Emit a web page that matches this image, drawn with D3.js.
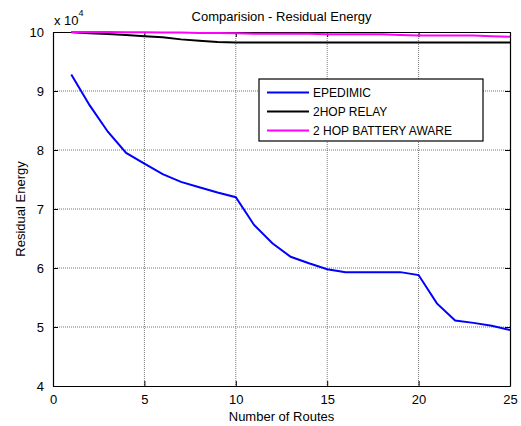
<!DOCTYPE html>
<html>
<head>
<meta charset="utf-8">
<script src="https://cdn.jsdelivr.net/npm/d3@7"></script>
<style>
  body { margin: 0; background: #fff; }
  text { font-family: Arial, "Liberation Sans", sans-serif; fill: #000; }
</style>
</head>
<body>
<div id="chart"></div>
<script>
// chart data
var routes = d3.range(1, 26);
var epidemic = [92800, 87600, 83100, 79500, 77700, 75900, 74600, 73700, 72800, 72000,
  67300, 64200, 61900, 60800, 59800, 59300, 59300, 59300, 59300, 58800,
  54000, 51100, 50700, 50200, 49500];
var twoHopRelay = [99950, 99800, 99650, 99500, 99300, 99100, 98750, 98500, 98300, 98200,
  98200, 98200, 98200, 98200, 98200, 98200, 98200, 98200, 98200, 98200,
  98200, 98200, 98200, 98200, 98200];
var twoHopBattery = [100000, 100000, 100000, 99950, 99950, 99900, 99900, 99850, 99850, 99800,
  99700, 99700, 99700, 99700, 99600, 99600, 99600, 99600, 99500, 99400,
  99400, 99400, 99400, 99300, 99200];
var seriesNames = ["EPEDIMIC", "2HOP RELAY", "2 HOP BATTERY AWARE"];
var seriesColors = ["#0000ff", "#000000", "#ff00ff"];
var xTicks = [0, 5, 10, 15, 20, 25];
var yTicks = [40000, 50000, 60000, 70000, 80000, 90000, 100000];

var svgWidth = 521;
var svgHeight = 426;

var margin = { top: 32, right: 11, bottom: 40, left: 53 };
var width = svgWidth - margin.left - margin.right;
var height = svgHeight - margin.top - margin.bottom;

var svg = d3.select("#chart")
  .append("svg")
  .attr("width", svgWidth)
  .attr("height", svgHeight);

var chartGroup = svg.append("g")
  .attr("transform", `translate(${margin.left}, ${margin.top})`);

var xScale = d3.scaleLinear().domain([0, 25]).range([0, width]);
var yScale = d3.scaleLinear().domain([40000, 100000]).range([height, 0]);

// dotted grid
chartGroup.append("g")
  .selectAll("line.vgrid")
  .data(xTicks.slice(1, -1))
  .enter()
  .append("line")
  .attr("x1", d => xScale(d)).attr("x2", d => xScale(d))
  .attr("y1", 0).attr("y2", height)
  .attr("stroke", "#777")
  .attr("stroke-dasharray", "1,1");

chartGroup.append("g")
  .selectAll("line.hgrid")
  .data(yTicks.slice(1, -1))
  .enter()
  .append("line")
  .attr("x1", 0).attr("x2", width)
  .attr("y1", d => yScale(d)).attr("y2", d => yScale(d))
  .attr("stroke", "#777")
  .attr("stroke-dasharray", "1,1");

// axes with inward ticks, MATLAB style
var bottomAxis = d3.axisBottom(xScale).tickValues(xTicks).tickSizeInner(-5).tickSizeOuter(0).tickPadding(9);
var topAxis = d3.axisTop(xScale).tickValues(xTicks).tickSizeInner(-5).tickSizeOuter(0).tickFormat("");
var leftAxis = d3.axisLeft(yScale).tickValues(yTicks).tickSizeInner(-5).tickSizeOuter(0).tickPadding(9)
  .tickFormat(d => d / 10000);
var rightAxis = d3.axisRight(yScale).tickValues(yTicks).tickSizeInner(-5).tickSizeOuter(0).tickFormat("");

function styleAxis(g) {
  g.selectAll("path").attr("stroke", "#000").attr("stroke-width", 1.2);
  g.selectAll("line").attr("stroke", "#000");
  g.selectAll("text").style("font-size", "13px").attr("fill", "#000")
    .style("font-family", "Arial, 'Liberation Sans', sans-serif");
}

chartGroup.append("g").attr("transform", `translate(0, ${height})`).call(bottomAxis).call(styleAxis);
chartGroup.append("g").call(topAxis).call(styleAxis);
chartGroup.append("g").call(leftAxis).call(styleAxis);
chartGroup.append("g").attr("transform", `translate(${width}, 0)`).call(rightAxis).call(styleAxis);

// lines
var lineGen = d3.line()
  .x((d, i) => xScale(routes[i]))
  .y(d => yScale(d));

[epidemic, twoHopRelay, twoHopBattery].forEach(function(values, i) {
  chartGroup.append("path")
    .datum(values)
    .attr("fill", "none")
    .attr("stroke", seriesColors[i])
    .attr("stroke-width", 2)
    .attr("d", lineGen);
});

// legend
var legend = chartGroup.append("g")
  .attr("transform", `translate(${259 - margin.left}, ${79 - margin.top})`);

legend.append("rect")
  .attr("width", 224)
  .attr("height", 62)
  .attr("fill", "#fff")
  .attr("stroke", "#000")
  .attr("stroke-width", 1.2);

seriesNames.forEach(function(name, i) {
  var yPos = 13.5 + i * 19;
  legend.append("line")
    .attr("x1", 8).attr("x2", 50)
    .attr("y1", yPos).attr("y2", yPos)
    .attr("stroke", seriesColors[i])
    .attr("stroke-width", 2);
  legend.append("text")
    .attr("x", 54)
    .attr("y", yPos)
    .attr("dy", "0.35em")
    .style("font-size", "12px")
    .text(name);
});

// title and labels
svg.append("text")
  .attr("x", margin.left + width / 2)
  .attr("y", 21)
  .attr("text-anchor", "middle")
  .style("font-size", "13px")
  .text("Comparision - Residual Energy");

svg.append("text")
  .attr("x", margin.left + width / 2)
  .attr("y", 421)
  .attr("text-anchor", "middle")
  .style("font-size", "13px")
  .text("Number of Routes");

svg.append("text")
  .attr("transform", `translate(25, ${margin.top + height / 2}) rotate(-90)`)
  .attr("text-anchor", "middle")
  .style("font-size", "13px")
  .text("Residual Energy");

// exponent label
var expLabel = svg.append("text")
  .attr("x", 54)
  .attr("y", 25)
  .style("font-size", "13px");
expLabel.append("tspan").text("x 10");
expLabel.append("tspan").attr("dy", -9).style("font-size", "9px").text("4");
</script>
</body>
</html>
